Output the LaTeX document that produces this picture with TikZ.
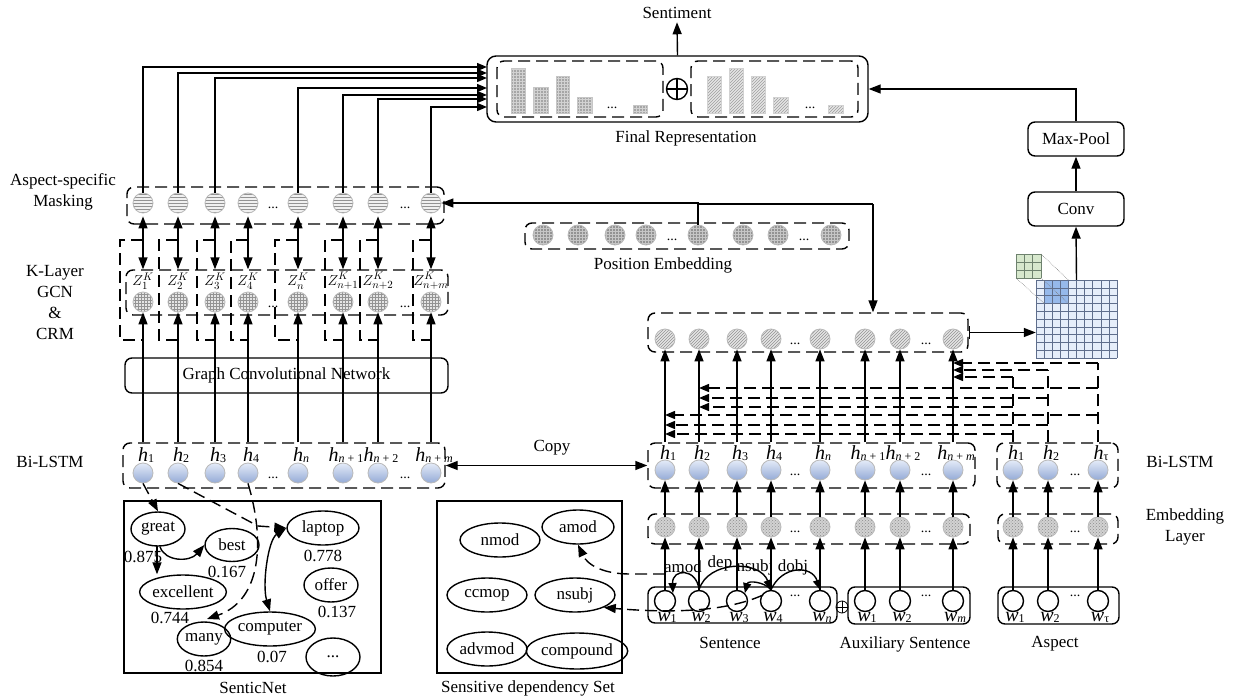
\documentclass[tikz,border=0pt]{standalone}
\usepackage{fontspec}
\setmainfont{Liberation Serif}
\usetikzlibrary{arrows.meta,patterns,shapes.geometric,calc}
\definecolor{hblueT}{RGB}{228,235,248}
\definecolor{hblueB}{RGB}{148,170,214}
\definecolor{cgray}{RGB}{185,185,185}
\definecolor{matfill}{RGB}{230,238,250}
\definecolor{matline}{RGB}{95,110,140}
\definecolor{mathl}{RGB}{150,185,235}
\definecolor{kerfill}{RGB}{215,232,205}
\definecolor{kerline}{RGB}{110,130,110}
\newcommand{\hlab}[1]{{\fontsize{20}{20}\selectfont\textit{h}}\raisebox{-1pt}{\fontsize{12}{12}\selectfont #1}}
\newcommand{\wlab}[1]{{\fontsize{20}{20}\selectfont\textit{w}}\raisebox{-1pt}{\fontsize{12}{12}\selectfont #1}}
\tikzset{
  lw/.style={line width=1.4pt},
  arr/.style={lw,-{Triangle[length=12pt,width=9pt]}},
  sarr/.style={lw,-{Triangle[length=10pt,width=8pt]}},
  darr/.style={lw,{Triangle[length=12pt,width=9pt]}-{Triangle[length=12pt,width=9pt]}},
  dsh/.style={dash pattern=on 12pt off 6pt},
  dbox/.style={draw,lw,dsh,rounded corners=7pt,inner sep=0pt},
  txt/.style={font=\fontsize{17}{21}\selectfont},
  dotf/.style={font=\fontsize{14}{14}\selectfont,inner sep=0pt},
  cbase/.style={circle,minimum size=20pt,inner sep=0pt,draw=cgray,line width=0.8pt},
  maskc/.style={cbase,preaction={fill=gray!12},pattern=horizontal lines,pattern color=gray!85},
  zc/.style={cbase,preaction={fill=gray!20},pattern=grid,pattern color=gray!85},
  pec/.style={cbase,preaction={fill=gray!85},pattern=grid,pattern color=gray!45},
  hatc/.style={cbase,preaction={fill=gray!20},pattern=north east lines,pattern color=gray!85},
  embc/.style={cbase,preaction={fill=gray!35},pattern=crosshatch dots,pattern color=gray!90},
  hc/.style={cbase,top color=hblueT,bottom color=hblueB},
  wc/.style={circle,minimum size=21pt,inner sep=0pt,draw,lw},
  ell/.style={ellipse,draw,lw,inner sep=0pt,txt},
  barL/.style={preaction={fill=gray!70},pattern=grid,pattern color=gray!35,draw=gray!45,line width=0.5pt},
  barR/.style={preaction={fill=gray!20},pattern=north east lines,pattern color=gray!75,draw=gray!35,line width=0.5pt},
  rbox/.style={draw,lw,rounded corners=7pt,inner sep=0pt},
}
\begin{document}
\begin{tikzpicture}[x=1pt,y=-1pt]
\useasboundingbox (0,0) rectangle (1240,699);

%================ Final representation ================
\node[rbox,rounded corners=9pt,minimum width=381pt,minimum height=66pt] (final) at (677.5,89) {};
\node[dbox,minimum width=166pt,minimum height=56pt] (finL) at (580,89) {};
\node[dbox,minimum width=167pt,minimum height=56pt] (finR) at (774.5,89) {};
\node[circle,draw,lw,minimum size=21pt,inner sep=0pt] (oplus) at (677,89) {};
\draw[lw] (oplus.north) -- (oplus.south) (oplus.west) -- (oplus.east);
\node[txt] (sent) at (677,13) {Sentiment};
\draw[arr] (final.north) -- (sent.south);
\node[txt] (finlab) at (686,138) {Final Representation};
\foreach \a/\b/\t in {511/525/68,533/548/87,556/569/76,577/592/97,633/647/105}
  \path[barL] (\a,\t) rectangle (\b,113);
\foreach \a/\b/\t in {707/721/76,729/743/68,751/765/76,773/788/97,828/843/105}
  \path[barR] (\a,\t) rectangle (\b,113);
\node[dotf] (fd1) at (612,108) {...};
\node[dotf] (fd2) at (810,108) {...};

%================ Aspect-specific masking ================
\node[txt,align=center] (masklab) at (63,192) {Aspect-specific\\Masking};
\node[dbox,minimum width=317pt,minimum height=37pt] (maskbox) at (285.5,205.5) {};
\foreach \x [count=\i] in {143,178,215,248,298,343,378,431}
  \node[maskc] (m\i) at (\x,203) {};
\node[dotf] (md1) at (273,208) {...};
\node[dotf] (md2) at (405,208) {...};
\foreach \i/\y in {1/67,2/73,3/78,5/88,6/95,7/99,8/107}
  \draw[sarr] (m\i.north) |- (487,\y);

%================ K-layer GCN & CRM ================
\node[txt,align=center] (klab) at (55,303) {K-Layer\\GCN\\\&\\CRM};
\foreach \xl/\xc in {120/143,159/178,197/215,231/248,275/298,325/343,360/378,413/431}
  \draw[lw,dsh] (\xc,240) -- (\xl,240) -- (\xl,340) -- (\xc,340);
\node[dbox,minimum width=322pt,minimum height=45pt] (zbox) at (287,292.5) {};
\foreach \x/\s [count=\i] in {143/1,178/2,215/3,248/4,298/n,343/{n+1},378/{n+2},431/{n+m}} {
  \node[zc] (z\i) at (\x,302) {};
  \node[font=\fontsize{15}{15}\selectfont,inner sep=0pt] (zl\i) at (\x,281) {$Z_{\s}^{K}$};
}
\node[dotf] (zd1) at (273,307) {...};
\node[dotf] (zd2) at (405,307) {...};
\foreach \i in {1,...,8}
  \draw[darr] ([yshift=-3pt]m\i.south) -- (m\i.south |- 0,262) -- (m\i.south |- zbox.north);

%================ GCN ================
\node[rbox,minimum width=323pt,minimum height=35pt,txt] (gcn) at (286.5,375.5) {Graph Convolutional Network};

%================ Left Bi-LSTM ================
\node[txt] (bil) at (50,462) {Bi-LSTM};
\node[dbox,minimum width=322pt,minimum height=45pt] (lhbox) at (284,465.5) {};
\foreach \x/\s [count=\i] in {143/1,178/2,215/3,248/4,298/\textit{n},343/{\textit{n} + 1},378/{\textit{n} + 2},431/{\textit{n} + \textit{m}}} {
  \node[hc] (hl\i) at (\x,473) {};
  \node[inner sep=0pt] (hll\i) at (\x+3,455) {\hlab{\s}};
  \draw[arr] (hl\i |- lhbox.north) -- (z\i.south);
}
\node[dotf] (hd1) at (273,478) {...};
\node[dotf] (hd2) at (405,478) {...};

%================ SenticNet ================
\node[draw,lw,minimum width=257pt,minimum height=172pt,inner sep=0pt] (snbox) at (252.5,587) {};
\node[txt] (snlab) at (253,688) {SenticNet};
\node[ell,minimum width=54pt,minimum height=34pt] (great) at (158,529) {great};
\node[ell,minimum width=54pt,minimum height=33pt] (best) at (232,545) {best};
\node[ell,minimum width=76pt,minimum height=34pt] (excellent) at (183,592) {excellent};
\node[ell,minimum width=52pt,minimum height=34pt] (many) at (204,639) {many};
\node[ell,minimum width=72pt,minimum height=34pt] (laptop) at (323,528) {laptop};
\node[ell,minimum width=54pt,minimum height=34pt] (offer) at (331,585) {offer};
\node[ell,minimum width=80pt,minimum height=34pt] (computer) at (270,629) {computer};
\node[ell,minimum width=54pt,minimum height=38pt] (more) at (333,657) {...};
\node[txt] (v1) at (143,557) {0.875};
\node[txt] (v2) at (227,572) {0.167};
\node[txt] (v3) at (170,618) {0.744};
\node[txt] (v4) at (204,666) {0.854};
\node[txt] (v5) at (323,556) {0.778};
\node[txt] (v6) at (337,612) {0.137};
\node[txt] (v7) at (272,657) {0.07};
\draw[arr] (great.south) ++(2,0) .. controls (165,562) and (190,562) .. (best.west);
\draw[arr] (157,546) -- (excellent.north -| 157,0);
\draw[darr] (laptop.west) .. controls (268,540) and (262,585) .. (computer.north);
\draw[arr,dsh] (hl1.south) -- (great.north);
\draw[arr,dsh] (hl2.south) -- (258,526) -- (laptop.west);
\draw[arr,dsh] (hl4.south) .. controls (265,540) and (262,600) .. (207,619);

%================ Sensitive dependency set ================
\node[draw,lw,minimum width=185pt,minimum height=172pt,inner sep=0pt] (sdbox) at (529.5,587) {};
\node[txt] (sdlab) at (528,688) {Sensitive dependency Set};
\node[ell,minimum width=80pt,minimum height=34pt] (nmod) at (500,540) {nmod};
\node[ell,minimum width=72pt,minimum height=34pt] (amod) at (578,527) {amod};
\node[ell,minimum width=80pt,minimum height=34pt] (ccmop) at (487,595) {ccmop};
\node[ell,minimum width=80pt,minimum height=34pt] (nsubj) at (575,595) {nsubj};
\node[ell,minimum width=80pt,minimum height=34pt] (advmod) at (487,649) {advmod};
\node[ell,minimum width=86pt,minimum height=36pt] (compound) at (577,651) {compound};

%================ Copy ================
\node[dbox,minimum width=327pt,minimum height=45pt] (rhbox) at (811.5,465.5) {};
\draw[darr] (lhbox.east) -- (rhbox.west);
\node[txt] (copy) at (552,448) {Copy};

%================ Position embedding ================
\node[dbox,minimum width=324pt,minimum height=26pt] (pebox) at (687,236) {};
\foreach \x [count=\i] in {543,578,615,646,698,743,778,831}
  \node[pec] (pe\i) at (\x,235) {};
\node[dotf] (ped1) at (672,240) {...};
\node[dotf] (ped2) at (804,240) {...};
\node[txt] (pelab) at (663,265) {Position Embedding};

%================ Right hatched row ================
\node[dbox,minimum width=320pt,minimum height=39pt] (hatbox) at (808,332.5) {};
\foreach \x [count=\i] in {665,699,737,771,820,865,900,953}
  \node[hatc] (hat\i) at (\x,339) {};
\node[dotf] (hatd1) at (795,344) {...};
\node[dotf] (hatd2) at (926,344) {...};
\coordinate (jn) at (873,204);
\draw[lw] (pe5.north) |- (jn);
\draw[arr] (pe5.north) |- (m8.east);
\draw[arr] (jn) -- (jn |- hatbox.north);

%================ Right Bi-LSTM ================
\node[txt] (bir) at (1180,462) {Bi-LSTM};
\foreach \x/\s [count=\i] in {665/1,699/2,737/3,771/4,820/\textit{n},865/{\textit{n} + 1},900/{\textit{n} + 2},953/{\textit{n} + \textit{m}}} {
  \node[hc] (rh\i) at (\x,470) {};
  \node[inner sep=0pt] (rhl\i) at (\x+3,453) {\hlab{\s}};
  \draw[arr] (rh\i |- rhbox.north) -- (hat\i.south);
}
\node[dotf] (rhd1) at (795,475) {...};
\node[dotf] (rhd2) at (926,475) {...};
\node[dbox,minimum width=121pt,minimum height=45pt] (ahbox) at (1057.5,465.5) {};
\foreach \x/\s [count=\i] in {1013/1,1048/2,1098/τ} {
  \node[hc] (ah\i) at (\x,470) {};
  \node[inner sep=0pt] (ahl\i) at (\x+3,453) {\hlab{\s}};
}
\node[dotf] (ahd) at (1075,475) {...};

% feedback dashed lines
\foreach \k/\ya/\yb/\yc in {3/363/388/415,2/370/398/425,1/377/407/434} {
  \draw[lw,dsh] (ah\k |- ahbox.north) -- (ah\k |- 0,\ya);
  \draw[sarr,dsh] (ah\k |- 0,\ya) -- (hat8 |- 0,\ya);
  \draw[sarr,dsh] (ah\k |- 0,\yb) -- (hat2 |- 0,\yb);
  \draw[sarr,dsh] (ah\k |- 0,\yc) -- (hat1 |- 0,\yc);
}

%================ Embedding layer ================
\node[txt,align=center] (emblab) at (1185,527) {Embedding\\Layer};
\node[dbox,minimum width=322pt,minimum height=30pt] (embbox) at (809,529) {};
\node[dbox,minimum width=120pt,minimum height=30pt] (aembbox) at (1058,529) {};
\foreach \x [count=\i] in {665,699,737,771,820,865,900,953} {
  \node[embc] (e\i) at (\x,527) {};
  \draw[arr] (e\i.north) -- (rh\i.south);
}
\foreach \x [count=\i] in {1013,1048,1098} {
  \node[embc] (ae\i) at (\x,527) {};
  \draw[arr] (ae\i.north) -- (ah\i.south);
}
\node[dotf] (ed1) at (795,532) {...};
\node[dotf] (ed2) at (926,532) {...};
\node[dotf] (ed3) at (1075,532) {...};

%================ Words ================
\node[rbox,minimum width=189pt,minimum height=36pt] (sbox) at (742.5,605) {};
\node[rbox,minimum width=122pt,minimum height=37pt] (abox) at (909,605.5) {};
\node[rbox,minimum width=121pt,minimum height=37pt] (aspbox) at (1058.5,605.5) {};
\node[circle,draw,line width=0.8pt,minimum size=12pt,inner sep=0pt] (oplus2) at (842,607) {};
\draw[line width=0.8pt] (oplus2.north) -- (oplus2.south) (oplus2.west) -- (oplus2.east);
\foreach \x/\s [count=\i] in {665/1,699/2,737/3,771/4,820/\textit{n}} {
  \node[wc] (w\i) at (\x,601) {};
  \node[inner sep=0pt] (wl\i) at (\x+2,617) {\wlab{\s}};
  \draw[arr] (w\i.north) -- (e\i.south);
}
\foreach \x/\s [count=\i] in {865/1,900/2,953/\textit{m}} {
  \node[wc] (aw\i) at (\x,601) {};
  \node[inner sep=0pt] (awl\i) at (\x+2,617) {\wlab{\s}};
}
\draw[arr] (aw1.north) -- (e6.south);
\draw[arr] (aw2.north) -- (e7.south);
\draw[arr] (aw3.north) -- (e8.south);
\foreach \x/\s [count=\i] in {1013/1,1048/2,1098/τ} {
  \node[wc] (tw\i) at (\x,601) {};
  \node[inner sep=0pt] (twl\i) at (\x+2,617) {\wlab{\s}};
  \draw[arr] (tw\i.north) -- (ae\i.south);
}
\node[dotf] (wd1) at (795,596) {...};
\node[dotf] (wd2) at (926,596) {...};
\node[dotf] (wd3) at (1075,596) {...};
\node[txt] (slab) at (730,643) {Sentence};
\node[txt] (alab) at (905,644) {Auxiliary Sentence};
\node[txt] (asplab) at (1055,644) {Aspect};

% dependency arcs
\draw[sarr] (w2.north) .. controls (697,568) and (672,568) .. (w1.north east);
\draw[sarr] (w2.north) .. controls (708,560) and (760,560) .. (w4.north);
\draw[sarr] (w4.north) .. controls (765,582) and (748,580) .. (w3.north east);
\draw[sarr] (w4.north) .. controls (782,565) and (812,565) .. (w5.north);
\node[txt,inner sep=0pt] (dl1) at (683,567) {amod};
\node[txt,inner sep=0pt] (dl2) at (720,563) {dep};
\node[txt,inner sep=0pt] (dl3) at (755,567) {nsubj};
\node[txt,inner sep=0pt] (dl4) at (793,567) {dobj};
\draw[arr,dsh] (665,574) -- (630,574) .. controls (605,574) and (588,566) .. (amod.south);
\draw[arr,dsh] (763,595) .. controls (730,610) and (680,614) .. (nsubj.south east);

%================ Matrix / Conv ================
\node[inner sep=0pt,minimum width=81pt,minimum height=78pt] (mat) at (1076.5,319) {};
\fill[matfill] (1036,280) rectangle (1117,358);
\fill[mathl] (1044.1,280) rectangle (1068.4,303.4);
\foreach \k in {0,...,10} {
  \draw[matline,line width=0.5pt] ({1036+8.1*\k},280) -- ({1036+8.1*\k},358);
  \draw[matline,line width=0.5pt] (1036,{280+7.8*\k}) -- (1117,{280+7.8*\k});
}
\fill[kerfill] (1016,254) rectangle (1041,278);
\foreach \k in {0,...,3} {
  \draw[kerline,line width=0.5pt] ({1016+8.33*\k},254) -- ({1016+8.33*\k},278);
  \draw[kerline,line width=0.5pt] (1016,{254+8*\k}) -- (1041,{254+8*\k});
}
\draw[gray,densely dotted,line width=0.6pt] (1041,254) -- (1068.4,280) (1016,278) -- (1044.1,303.4) (1041,278) -- (1068.4,303.4);
\draw[lw,{Bar[width=13pt]}-{Triangle[length=12pt,width=9pt]}] (hatbox.east) -- (hatbox.east -| mat.west);
\node[rbox,minimum width=96pt,minimum height=34pt,txt] (conv) at (1076,209) {Conv};
\node[rbox,minimum width=96pt,minimum height=34pt,txt] (maxpool) at (1076,139) {Max-Pool};
\draw[arr] (mat.north) -- (conv.south);
\draw[arr] (conv.north) -- (maxpool.south);
\draw[arr] (maxpool.north) |- (final.east);
\end{tikzpicture}
\end{document}
